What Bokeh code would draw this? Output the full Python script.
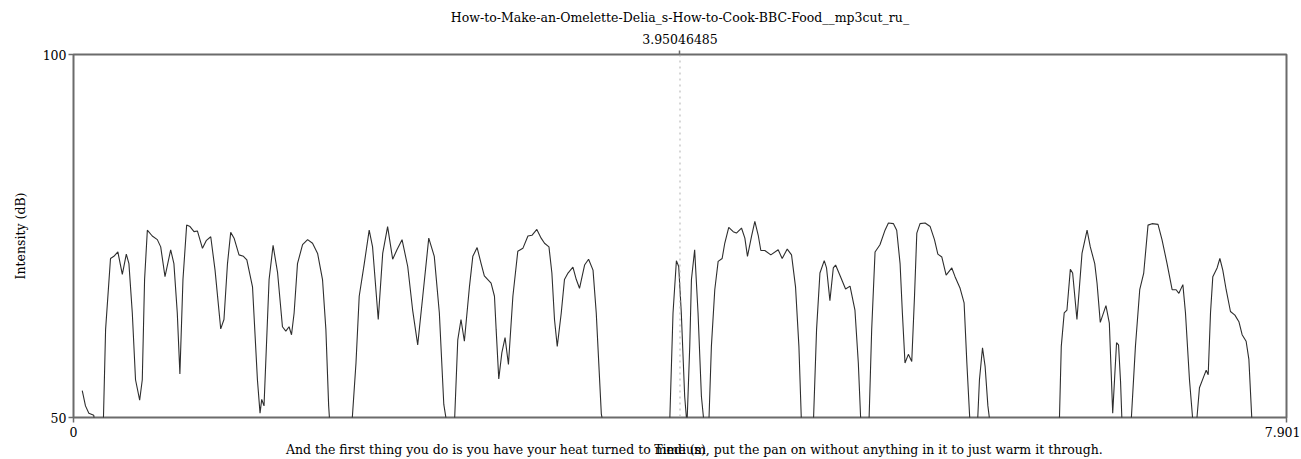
from bokeh.plotting import figure
from bokeh.models import Range1d, LinearAxis, FixedTicker, Span, Title
from bokeh.embed import file_html
from bokeh.resources import INLINE

FONT = "DejaVu Serif"
FSIZE = "12.5px"

title_text = "How-to-Make-an-Omelette-Delia_s-How-to-Cook-BBC-Food__mp3cut_ru_"
cursor_time = 3.95046485
cursor_label = "3.95046485"
x_ticks = [0, 7.901]
y_ticks = [50, 100]
x_label = "Time (s)"
y_label = "Intensity (dB)"
sentence = ("And the first thing you do is you have your heat turned to medium, "
            "put the pan on without anything in it to just warm it through.")
# where the two overlapping bottom texts are centred
x_label_pos = 3.9505
sentence_pos = 4.044

time_s = [
    0.057, 0.078, 0.100, 0.132, 0.139, 0.194, 0.209, 0.241, 0.263, 0.289,
    0.318, 0.344, 0.361, 0.383, 0.404, 0.431, 0.448, 0.463, 0.481, 0.513,
    0.546, 0.568, 0.596, 0.633, 0.654, 0.676, 0.693, 0.713, 0.737, 0.759,
    0.785, 0.807, 0.840, 0.866, 0.894, 0.922, 0.959, 0.980, 1.003, 1.024,
    1.046, 1.078, 1.107, 1.129, 1.166, 1.198, 1.215, 1.226, 1.241, 1.274,
    1.300, 1.329, 1.361, 1.383, 1.404, 1.420, 1.437, 1.459, 1.492, 1.525,
    1.557, 1.590, 1.622, 1.644, 1.662, 1.670, 1.813, 1.840, 1.861, 1.894,
    1.926, 1.948, 1.985, 2.014, 2.046, 2.079, 2.107, 2.140, 2.177, 2.209,
    2.242, 2.275, 2.314, 2.350, 2.383, 2.412, 2.433, 2.481, 2.503, 2.524,
    2.546, 2.579, 2.601, 2.629, 2.655, 2.676, 2.720, 2.742, 2.753, 2.770,
    2.790, 2.811, 2.833, 2.862, 2.894, 2.927, 2.960, 2.986, 3.018, 3.046,
    3.068, 3.097, 3.116, 3.133, 3.151, 3.177, 3.198, 3.221, 3.253, 3.275,
    3.296, 3.329, 3.355, 3.384, 3.405, 3.438, 3.451, 3.883, 3.905, 3.927,
    3.942, 3.959, 3.981, 3.996, 4.014, 4.025, 4.046, 4.068, 4.090, 4.108,
    4.138, 4.155, 4.177, 4.199, 4.225, 4.242, 4.268, 4.297, 4.318, 4.351,
    4.373, 4.390, 4.416, 4.438, 4.460, 4.477, 4.503, 4.542, 4.590, 4.616,
    4.649, 4.677, 4.703, 4.725, 4.742, 4.819, 4.840, 4.862, 4.890, 4.905,
    4.927, 4.949, 4.964, 4.992, 5.029, 5.058, 5.090, 5.112, 5.129, 5.181,
    5.199, 5.221, 5.253, 5.286, 5.308, 5.341, 5.362, 5.384, 5.399, 5.416,
    5.438, 5.460, 5.478, 5.493, 5.514, 5.547, 5.580, 5.608, 5.630, 5.656,
    5.684, 5.721, 5.742, 5.775, 5.801, 5.819, 5.840, 5.888, 5.901, 5.921,
    5.938, 5.956, 5.971, 6.421, 6.434, 6.453, 6.471, 6.493, 6.508, 6.536,
    6.569, 6.602, 6.623, 6.652, 6.667, 6.688, 6.725, 6.747, 6.769, 6.794,
    6.807, 6.820, 6.830, 6.888, 6.917, 6.945, 6.971, 6.999, 7.025, 7.064,
    7.090, 7.123, 7.156, 7.182, 7.200, 7.226, 7.243, 7.269, 7.293, 7.314,
    7.334, 7.363, 7.378, 7.391, 7.406, 7.421, 7.449, 7.467, 7.486, 7.508,
    7.536, 7.565, 7.591, 7.612, 7.638, 7.656, 7.677,
]

intensity_db = [
    53.7, 51.6, 50.6, 50.3, 49.0, 49.0, 62.1, 71.9, 72.2, 72.8,
    69.7, 72.5, 71.2, 64.4, 55.2, 52.4, 55.2, 69.0, 75.8, 75.0,
    74.5, 73.5, 69.4, 73.1, 71.2, 64.4, 56.0, 69.0, 76.5, 76.3,
    75.6, 75.7, 73.3, 74.4, 74.9, 70.3, 62.2, 63.5, 71.2, 75.5,
    74.7, 72.4, 72.2, 71.7, 68.0, 55.2, 50.6, 52.5, 51.6, 69.0,
    73.7, 70.0, 62.5, 61.9, 62.5, 61.4, 64.4, 71.2, 73.8, 74.5,
    74.0, 72.6, 69.0, 62.1, 51.6, 49.0, 49.0, 57.5, 66.7, 71.2,
    75.8, 73.5, 63.5, 72.6, 76.3, 71.8, 73.1, 74.5, 70.8, 64.8,
    60.0, 66.7, 74.7, 72.2, 64.4, 51.8, 49.0, 49.0, 60.7, 63.5,
    60.5, 68.0, 72.2, 73.4, 71.2, 69.5, 68.5, 66.7, 62.1, 55.3,
    58.9, 61.0, 57.3, 66.7, 72.9, 73.3, 75.0, 75.1, 75.9, 74.7,
    74.0, 73.5, 69.9, 63.5, 59.8, 64.4, 69.0, 69.9, 70.7, 69.0,
    67.8, 71.0, 71.8, 70.3, 64.4, 50.5, 49.0, 49.0, 64.4, 71.6,
    70.8, 64.4, 52.9, 49.0, 59.8, 69.0, 73.1, 64.4, 52.9, 49.0,
    49.0, 59.8, 67.6, 71.5, 71.9, 74.0, 76.2, 75.6, 75.4, 76.1,
    74.7, 72.2, 74.9, 77.0, 75.1, 73.0, 73.0, 72.4, 73.1, 71.9,
    73.2, 72.4, 68.0, 59.8, 49.0, 49.0, 62.1, 69.9, 71.6, 70.6,
    66.1, 70.6, 71.0, 69.6, 67.7, 68.1, 64.8, 57.5, 49.0, 49.0,
    62.1, 72.8, 73.8, 75.8, 76.8, 76.7, 75.8, 71.2, 64.4, 57.5,
    58.7, 57.7, 66.7, 75.4, 76.7, 76.8, 76.3, 74.5, 72.5, 72.1,
    69.6, 70.6, 69.4, 67.8, 65.8, 57.5, 49.0, 49.0, 55.2, 59.6,
    57.0, 51.6, 49.0, 49.0, 59.8, 64.4, 64.8, 70.4, 69.9, 63.5,
    72.6, 75.8, 73.5, 71.2, 68.5, 63.1, 65.4, 63.0, 50.6, 60.3,
    60.0, 55.0, 49.0, 49.0, 59.8, 67.6, 69.9, 76.5, 76.7, 76.6,
    74.5, 71.2, 67.6, 67.6, 67.1, 68.3, 64.4, 55.2, 49.0, 49.0,
    54.1, 55.7, 56.5, 55.9, 64.4, 69.4, 70.6, 71.9, 70.3, 67.6,
    64.6, 64.1, 63.2, 61.4, 60.5, 58.0, 49.0,
]

FRAME = "#6b6b6b"

p = figure(width=1300, height=459, output_backend="svg", toolbar_location=None,
           x_range=Range1d(0, 7.901), y_range=Range1d(50, 100),
           x_axis_location=None, y_axis_location=None,
           min_border_left=73, min_border_right=14,
           min_border_top=54, min_border_bottom=41)
p.background_fill_color = "white"
p.border_fill_color = "white"
p.outline_line_color = FRAME
p.outline_line_width = 2
p.xgrid.visible = False
p.ygrid.visible = False

def style_axis(ax):
    ax.axis_line_color = None
    ax.major_tick_line_color = FRAME
    ax.major_tick_line_width = 1.5
    ax.major_tick_out = 5
    ax.major_tick_in = 0
    ax.minor_tick_line_color = None
    ax.major_label_text_font = FONT
    ax.major_label_text_font_size = FSIZE
    ax.major_label_text_color = "black"
    ax.axis_label_text_font = FONT
    ax.axis_label_text_font_size = FSIZE
    ax.axis_label_text_font_style = "normal"
    ax.axis_label_text_color = "black"

left = LinearAxis(ticker=FixedTicker(ticks=y_ticks), axis_label=y_label)
style_axis(left)
left.major_label_standoff = 2
left.axis_label_standoff = 12
left.major_label_overrides = {50: "50", 100: "100"}
p.add_layout(left, "left")

bottom = LinearAxis(ticker=FixedTicker(ticks=x_ticks))
style_axis(bottom)
bottom.major_label_standoff = 4
bottom.major_label_overrides = {0: "0", 7.901: "7.901"}
p.add_layout(bottom, "below")

bottom2 = LinearAxis(ticker=FixedTicker(ticks=[x_label_pos, sentence_pos]))
style_axis(bottom2)
bottom2.major_tick_line_color = None
bottom2.major_tick_out = 0
bottom2.major_label_standoff = 2
bottom2.major_label_overrides = {x_label_pos: x_label, sentence_pos: sentence}
p.add_layout(bottom2, "below")

top = LinearAxis(ticker=FixedTicker(ticks=[cursor_time]))
style_axis(top)
top.major_tick_out = 4
top.major_label_standoff = 7
top.major_label_overrides = {cursor_time: cursor_label}
p.add_layout(top, "above")

p.add_layout(Title(text=title_text, align="center", text_font=FONT,
                   text_font_size=FSIZE, text_font_style="normal",
                   text_color="black", standoff=12, offset=0), "above")

p.add_layout(Span(location=cursor_time, dimension="height",
                  line_color="#b0b0b0", line_width=1, line_dash="dotted"))

p.line(time_s, intensity_db, line_color="#2e2e2e", line_width=1.1)

open("out.html", "w").write(file_html(p, INLINE))
